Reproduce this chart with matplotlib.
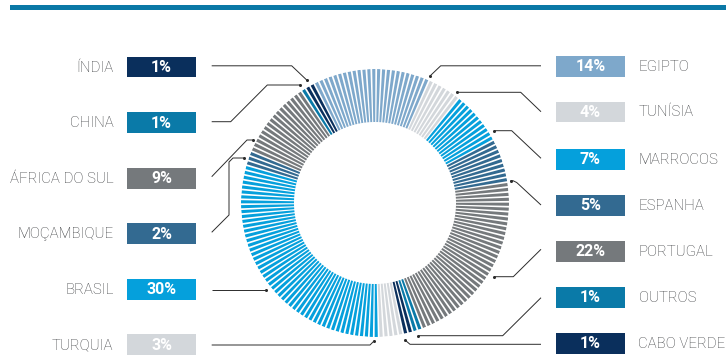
import numpy as np
import matplotlib
matplotlib.use("Agg")
import matplotlib.pyplot as plt

# ---------------- data ----------------
# ring order, clockwise from the top
ring_names = ["EGIPTO", "TUNÍSIA", "MARROCOS", "ESPANHA", "PORTUGAL", "OUTROS",
              "CABO VERDE", "TURQUIA", "BRASIL", "MOÇAMBIQUE", "ÁFRICA DO SUL",
              "CHINA", "ÍNDIA"]
ring_values = [14, 4, 7, 5, 22, 1, 1, 3, 30, 2, 9, 1, 1]
ring_colors = ["#7ea8cb", "#d3d7db", "#05a0dc", "#336a91", "#75797c", "#0a7aa8",
               "#0a2f5c", "#d3d7db", "#05a0dc", "#336a91", "#75797c", "#0a7aa8",
               "#0a2f5c"]

left_labels = ["ÍNDIA", "CHINA", "ÁFRICA DO SUL", "MOÇAMBIQUE", "BRASIL", "TURQUIA"]
right_labels = ["EGIPTO", "TUNÍSIA", "MARROCOS", "ESPANHA", "PORTUGAL", "OUTROS", "CABO VERDE"]

# ---------------- styling / layout ----------------
W, H = 726, 355
fig = plt.figure(figsize=(W / 100, H / 100), dpi=100)
fig.patch.set_facecolor("white")

label_font = ["Roboto", "DejaVu Sans"]
label_color = "#3a3c3f"

ax = fig.add_axes([0, 0, 1, 1])
ax.set_xlim(0, W)
ax.set_ylim(H, 0)
ax.axis("off")

# top bar
ax.add_patch(plt.Rectangle((10, 4.7), W - 10, 5.3, color="#0a78a6", lw=0))

val_of = dict(zip(ring_names, ring_values))
col_of = dict(zip(ring_names, ring_colors))

# left boxes
left_y = [67.2, 122.6, 178.4, 233.6, 289.4, 344.6]
for name, y in zip(left_labels, left_y):
    ax.add_patch(plt.Rectangle((127, y - 10.3), 69, 20.6, color=col_of[name], lw=0))
    ax.text(161.5, y + 0.5, f"{val_of[name]}%", color="white", ha="center", va="center",
            fontsize=11.5, fontweight="bold", family=label_font)
    ax.text(113.5, y + 0.5, name, color=label_color, ha="right", va="center",
            fontsize=10.8, fontweight="light", family=label_font)

right_y = [66.3, 112.0, 159.5, 205.4, 251.3, 297.5, 343.5]
for name, y in zip(right_labels, right_y):
    ax.add_patch(plt.Rectangle((556, y - 10.3), 69, 20.6, color=col_of[name], lw=0))
    ax.text(590.5, y + 0.5, f"{val_of[name]}%", color="white", ha="center", va="center",
            fontsize=11.5, fontweight="bold", family=label_font)
    ax.text(638.5, y + 0.5, name, color=label_color, ha="left", va="center",
            fontsize=10.8, fontweight="light", family=label_font)

# leader lines (layout)
leaders = [
    [(211.7, 65.8), (291.7, 65.8), (306.7, 80.0)],                       # India
    [(211.7, 121.7), (230.7, 121.7), (267.3, 85.0), (300.0, 85.0)],      # China
    [(211.7, 176.7), (247.0, 140.0), (252.7, 140.0)],                    # Africa do Sul
    [(211.7, 232.3), (229.0, 215.0), (229.0, 162.0), (233.0, 158.0), (244.0, 158.0)],  # Mocambique
    [(211.7, 290.0), (266.0, 290.0)],                                    # Brasil
    [(211.7, 345.0), (370.0, 345.0), (374.0, 341.0)],                    # Turquia
    [(541.0, 65.8), (440.7, 65.8), (430.0, 76.0)],                       # Egipto
    [(541.0, 111.7), (520.7, 92.3), (456.7, 92.3)],                      # Tunisia
    [(541.0, 158.3), (511.7, 130.7), (494.0, 130.7)],                    # Marrocos
    [(541.0, 205.0), (516.7, 182.5), (513.0, 180.7), (510.5, 180.7)],    # Espanha
    [(541.0, 249.3), (513.3, 276.7), (494.0, 276.7)],                    # Portugal
    [(541.0, 297.7), (502.7, 335.7), (418.3, 335.7)],                    # Outros
    [(541.0, 344.3), (410.0, 344.3), (405.0, 340.0)],                    # Cabo Verde
]
for path in leaders:
    xs, ys = zip(*path)
    ax.plot(xs, ys, color="#2b2b2b", lw=0.7, solid_capstyle="butt")
    end = path[-1]
    ax.plot([end[0]], [end[1]], "o", color="#2b2b2b", ms=2.2, mew=0)

# ---------------- striped ring ----------------
cx, cy, r_out, r_in = 375.0, 203.0, 134.0, 81.0
pax = fig.add_axes([(cx - r_out) / W, (H - cy - r_out) / H, 2 * r_out / W, 2 * r_out / H],
                   projection="polar")
pax.set_theta_zero_location("N")
pax.set_theta_direction(-1)
pax.set_ylim(0, r_out)
pax.axis("off")
pax.patch.set_alpha(0)

start_deg = -27.0
n_stripes = 170
step = 360.0 / n_stripes
bounds = start_deg + np.concatenate([[0], np.cumsum(ring_values)]) * 3.6
centers = start_deg + (np.arange(n_stripes) + 0.5) * step
seg_idx = np.clip(np.searchsorted(bounds, centers, side="right") - 1, 0, len(ring_values) - 1)
stripe_colors = [ring_colors[i] for i in seg_idx]
pax.bar(np.deg2rad(centers), r_out - r_in, width=np.deg2rad(step * 0.64), bottom=r_in,
        color=stripe_colors, linewidth=0, align="center")

fig.savefig("out.png", dpi=100, facecolor="white")
